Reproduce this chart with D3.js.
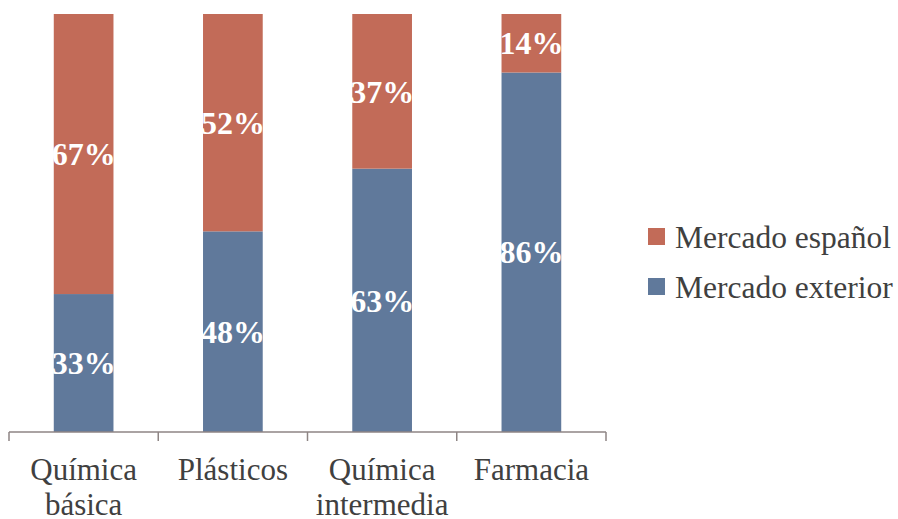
<!DOCTYPE html>
<html>
<head>
<meta charset="utf-8">
<script src="https://cdn.jsdelivr.net/npm/d3@7"></script>
<style>
  body { margin: 0; background: #fff; }
</style>
</head>
<body>
<div id="chart"></div>
<script>
// Data
const categories = [['Química', 'básica'], ['Plásticos'], ['Química', 'intermedia'], ['Farmacia']];
const exterior = [33, 48, 63, 86];
const espanol = [67, 52, 37, 14];
const seriesNames = ['Mercado español', 'Mercado exterior'];

const colors = { exterior: '#60799b', espanol: '#c26b58' };
const font = '"Liberation Serif", "Times New Roman", serif';

const W = 898, H = 519;
const margin = { top: 14, left: 9, right: 292, bottom: 87 };
const width = W - margin.left - margin.right;
const height = H - margin.top - margin.bottom;

const svg = d3.select('#chart')
    .append('svg')
    .attr('width', W)
    .attr('height', H)
    .append('g')
    .attr('transform', `translate(${margin.left},${margin.top})`);

const keys = categories.map((c, i) => i);

const xScale = d3.scaleBand()
    .domain(keys)
    .range([0, width])
    .paddingInner(0.6)
    .paddingOuter(0.3);

const yScale = d3.scaleLinear()
    .domain([0, 100])
    .range([height, 0]);

// Stacked segments: exterior at bottom, español on top
const rows = keys.map(i => ({ i, exterior: exterior[i], espanol: espanol[i] }));
const stack = d3.stack().keys(['exterior', 'espanol'])(rows);

const layer = svg.selectAll('.layer')
    .data(stack)
    .enter()
    .append('g')
    .attr('fill', d => colors[d.key]);

layer.selectAll('rect')
    .data(d => d)
    .enter()
    .append('rect')
    .attr('x', d => xScale(d.data.i))
    .attr('y', d => yScale(d[1]))
    .attr('width', xScale.bandwidth())
    .attr('height', d => yScale(d[0]) - yScale(d[1]));

// Value labels
layer.selectAll('text')
    .data(d => d.map(s => ({ s, v: s[1] - s[0] })))
    .enter()
    .append('text')
    .attr('x', d => xScale(d.s.data.i) + xScale.bandwidth() / 2)
    .attr('y', d => yScale((d.s[0] + d.s[1]) / 2))
    .attr('dy', '0.35em')
    .attr('text-anchor', 'middle')
    .attr('fill', '#fff')
    .attr('font-family', font)
    .attr('font-weight', 'bold')
    .attr('font-size', '32px')
    .text(d => d.v + '%');

// X axis with ticks at band boundaries
const axisColor = '#8e8584';
const axis = svg.append('g').attr('transform', `translate(0,${height})`);
axis.append('line')
    .attr('x1', 0).attr('x2', width)
    .attr('stroke', axisColor).attr('stroke-width', 1.5);
const step = width / categories.length;
d3.range(categories.length + 1).forEach(k => {
    axis.append('line')
        .attr('x1', k * step).attr('x2', k * step)
        .attr('y1', 0).attr('y2', 9)
        .attr('stroke', axisColor).attr('stroke-width', 1.5);
});

// Category labels
const catText = axis.selectAll('.cat')
    .data(categories)
    .enter()
    .append('text')
    .attr('class', 'cat')
    .attr('text-anchor', 'middle')
    .attr('font-family', font)
    .attr('font-size', '31px')
    .attr('fill', '#404040');
catText.selectAll('tspan')
    .data((d, i) => d.map(line => ({ line, i })))
    .enter()
    .append('tspan')
    .attr('x', d => xScale(d.i) + xScale.bandwidth() / 2)
    .attr('y', (d, j) => 48 + j * 35)
    .text(d => d.line);

// Legend
const legend = svg.append('g').attr('transform', `translate(${648 - margin.left},${228 - margin.top})`);
seriesNames.forEach((name, j) => {
    const g = legend.append('g').attr('transform', `translate(0,${j * 50})`);
    g.append('rect')
        .attr('width', 17).attr('height', 17)
        .attr('fill', j === 0 ? colors.espanol : colors.exterior);
    g.append('text')
        .attr('x', 27).attr('y', 9)
        .attr('dy', '0.35em')
        .attr('font-family', font)
        .attr('font-size', '31.5px')
        .attr('fill', '#404040')
        .text(name);
});
</script>
</body>
</html>
